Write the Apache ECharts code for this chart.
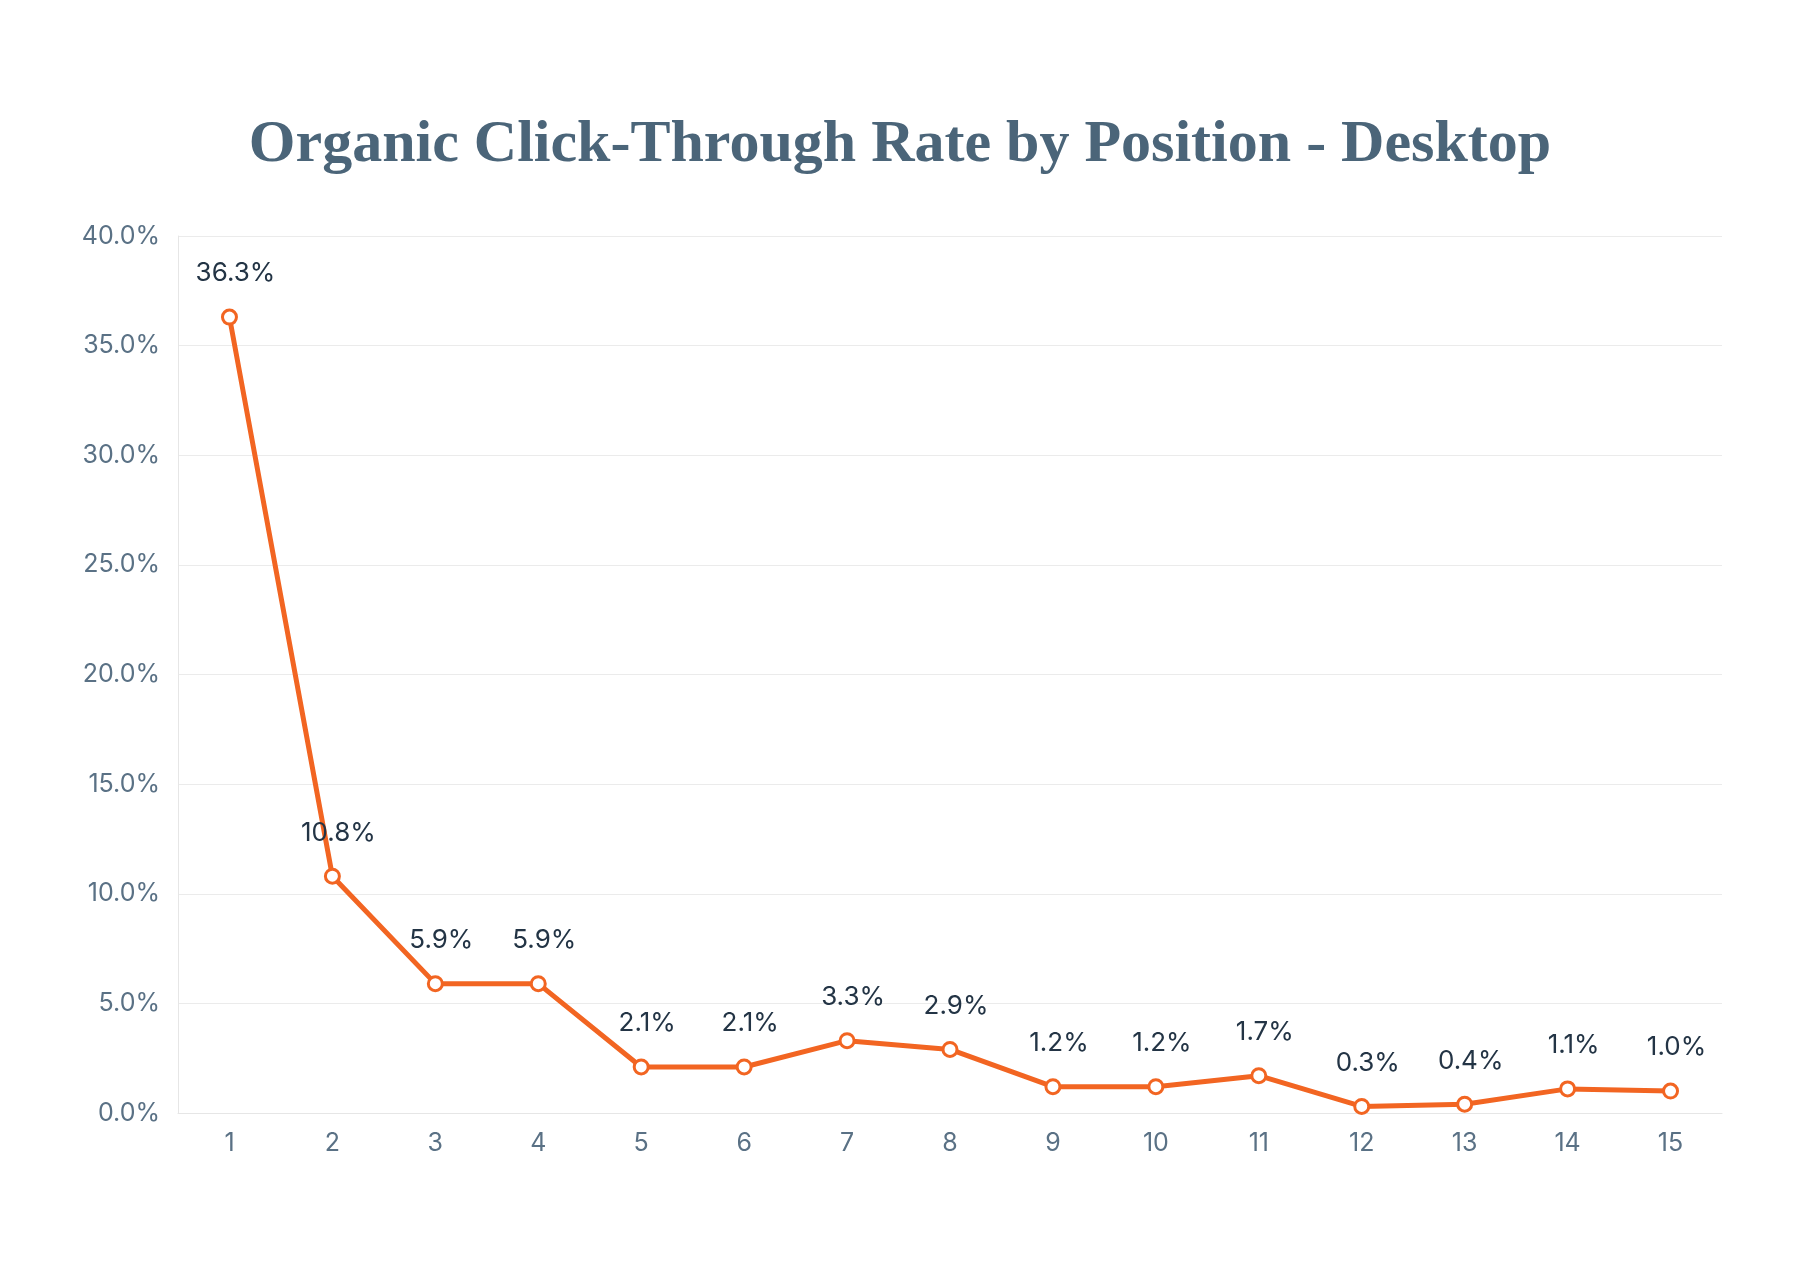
<!DOCTYPE html><html><head><meta charset="utf-8"><script src="https://cdn.jsdelivr.net/npm/echarts@6/dist/echarts.min.js"></script>
<style>html,body{margin:0;background:#fff}#c{width:1800px;height:1272px}</style></head><body><div id="c"></div><script>
const positions=['1','2','3','4','5','6','7','8','9','10','11','12','13','14','15'];
const ctr=[36.3,10.8,5.9,5.9,2.1,2.1,3.3,2.9,1.2,1.2,1.7,0.3,0.4,1.1,1.0];
const chart=echarts.init(document.getElementById('c'));
chart.setOption({
backgroundColor:'#fff',
title:{text:'Organic Click-Through Rate by Position - Desktop',left:'center',top:110,textStyle:{fontFamily:'Liberation Sans Narrow',fontWeight:'bold',fontSize:60,color:'#4b6579'}},
grid:{left:178,right:78,top:236,bottom:159},
xAxis:{type:'category',data:positions,axisLine:{lineStyle:{color:'#e6e6e6'}},axisTick:{show:false},
 axisLabel:{color:'#5a7185',fontSize:25,fontFamily:'Inter',margin:18}},
yAxis:{type:'value',min:0,max:40,interval:5,axisLine:{show:true,lineStyle:{color:'#e6e6e6'}},splitLine:{lineStyle:{color:'#ebebeb'}},
 axisLabel:{color:'#5a7185',fontSize:25,fontFamily:'Inter',margin:18,formatter:v=>v.toFixed(1)+'%'}},
series:[{type:'line',data:ctr,symbol:'circle',symbolSize:14,lineStyle:{color:'#f26522',width:5},
 itemStyle:{color:'#fff',borderColor:'#f26522',borderWidth:3},
 label:{show:true,position:'top',distance:22,offset:[6,0],color:'#233445',fontSize:26,fontFamily:'Inter',formatter:p=>p.value.toFixed(1)+'%'}}]
});
</script></body></html>
